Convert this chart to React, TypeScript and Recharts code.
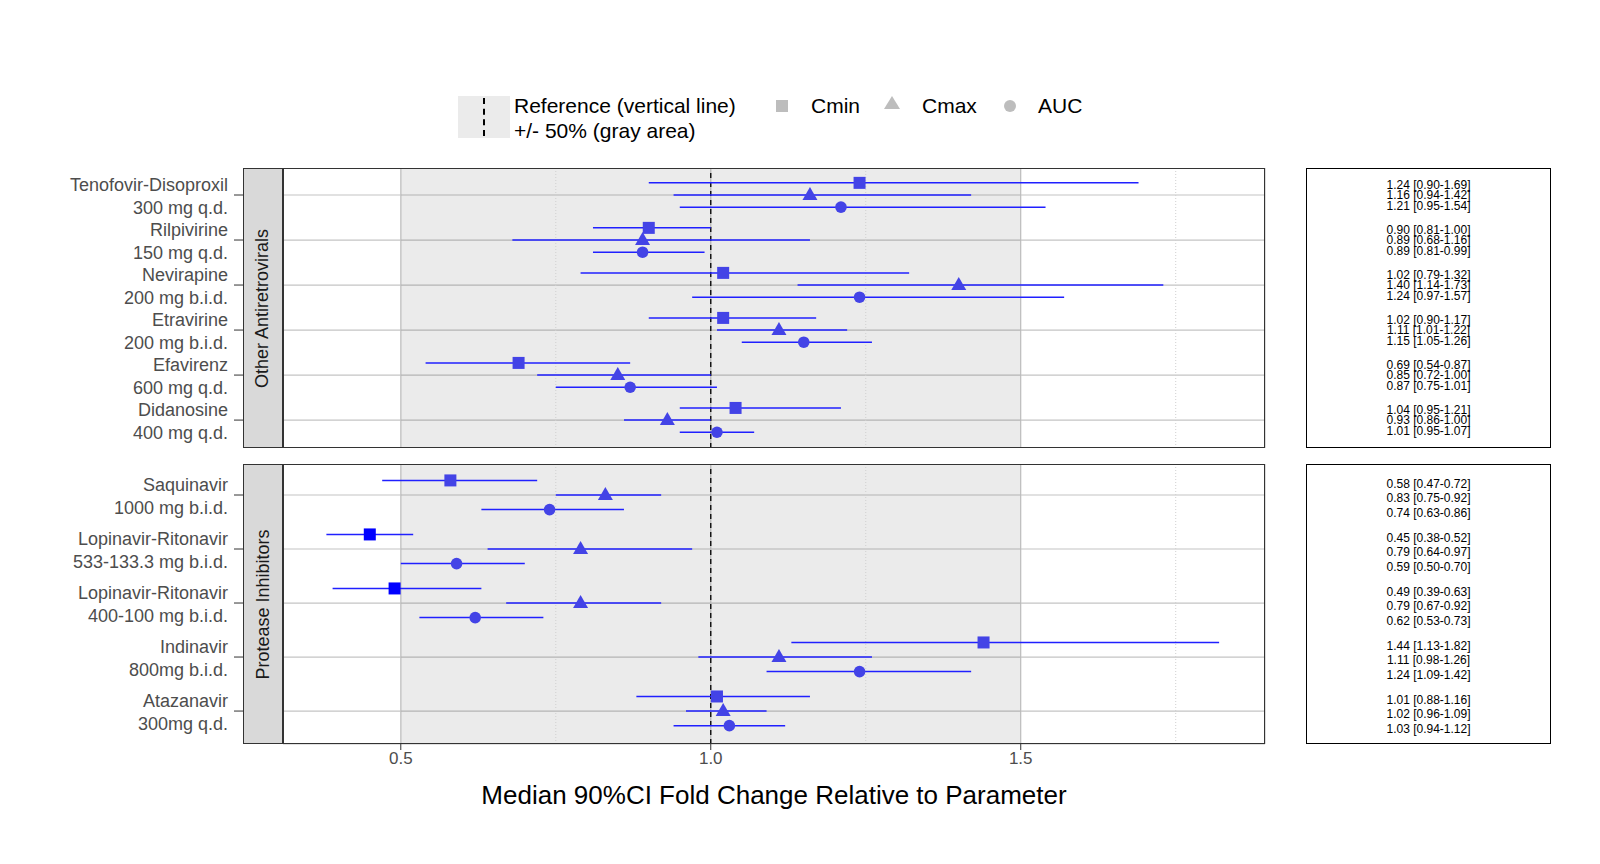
import React from 'react';
import { ScatterChart, Scatter, XAxis, YAxis, CartesianGrid, ReferenceArea, ReferenceLine, ErrorBar } from 'recharts';

const topDrugs = [
  ['Tenofovir-Disoproxil', '300 mg q.d.'],
  ['Rilpivirine', '150 mg q.d.'],
  ['Nevirapine', '200 mg b.i.d.'],
  ['Etravirine', '200 mg b.i.d.'],
  ['Efavirenz', '600 mg q.d.'],
  ['Didanosine', '400 mg q.d.'],
];
const topCmin = [[1.24, 0.9, 1.69], [0.9, 0.81, 1.0], [1.02, 0.79, 1.32], [1.02, 0.9, 1.17], [0.69, 0.54, 0.87], [1.04, 0.95, 1.21]];
const topCmax = [[1.16, 0.94, 1.42], [0.89, 0.68, 1.16], [1.4, 1.14, 1.73], [1.11, 1.01, 1.22], [0.85, 0.72, 1.0], [0.93, 0.86, 1.0]];
const topAuc = [[1.21, 0.95, 1.54], [0.89, 0.81, 0.99], [1.24, 0.97, 1.57], [1.15, 1.05, 1.26], [0.87, 0.75, 1.01], [1.01, 0.95, 1.07]];

const botDrugs = [
  ['Saquinavir', '1000 mg b.i.d.'],
  ['Lopinavir-Ritonavir', '533-133.3 mg b.i.d.'],
  ['Lopinavir-Ritonavir', '400-100 mg b.i.d.'],
  ['Indinavir', '800mg b.i.d.'],
  ['Atazanavir', '300mg q.d.'],
];
const botCmin = [[0.58, 0.47, 0.72], [0.45, 0.38, 0.52], [0.49, 0.39, 0.63], [1.44, 1.13, 1.82], [1.01, 0.88, 1.16]];
const botCmax = [[0.83, 0.75, 0.92], [0.79, 0.64, 0.97], [0.79, 0.67, 0.92], [1.11, 0.98, 1.26], [1.02, 0.96, 1.09]];
const botAuc = [[0.74, 0.63, 0.86], [0.59, 0.5, 0.7], [0.62, 0.53, 0.73], [1.24, 1.09, 1.42], [1.03, 0.94, 1.12]];

const xTicks = [0.5, 1.0, 1.5];
const minorTicks = [0.75, 1.25, 1.75];
const X_DOMAIN = [0.31, 1.894];
const OFF = 0.27;
const FONT = '"Liberation Sans", Arial, sans-serif';
const LINE = '#2020ff';

const build = (rows: number[][], off: number) =>
  rows.map(([v, lo, hi], i) => ({ x: v, y: i + off, err: [v - lo, hi - v] }));

const fillFor = (v: number) => (v < 0.5 ? '#0000ff' : '#4343e6');

const Square = (p: any) => <rect x={p.cx - 6} y={p.cy - 6} width={12} height={12} fill={fillFor(p.payload.x)} />;
const Tri = (p: any) => (
  <polygon points={`${p.cx},${p.cy - 8} ${p.cx - 7.5},${p.cy + 5} ${p.cx + 7.5},${p.cy + 5}`} fill={fillFor(p.payload.x)} />
);
const Circ = (p: any) => <circle cx={p.cx} cy={p.cy} r={5.8} fill={fillFor(p.payload.x)} />;

const makeTick = (labels: string[][]) => (p: any) => {
  const lab = labels[p.payload.value];
  if (!lab) return null;
  return (
    <g>
      <line x1={234} x2={243} y1={p.y} y2={p.y} stroke="#333" />
      <text x={228} y={p.y - 4} textAnchor="end" fontSize={18} fill="#4d4d4d" fontFamily={FONT}>{lab[0]}</text>
      <text x={228} y={p.y + 19} textAnchor="end" fontSize={18} fill="#4d4d4d" fontFamily={FONT}>{lab[1]}</text>
    </g>
  );
};

function Panel({ labels, cmin, cmax, auc, domain, top, height, showX }: any) {
  const n = labels.length;
  return (
    <div style={{ position: 'absolute', left: 0, top }}>
      <ScatterChart width={1266} height={height + (showX ? 40 : 0)} margin={{ top: 0, right: 1, bottom: 0, left: 0 }}>
        <CartesianGrid stroke="#c4c4c4" strokeWidth={1.2} />
        <XAxis
          type="number"
          dataKey="x"
          domain={X_DOMAIN}
          ticks={xTicks}
          hide={!showX}
          height={40}
          tickFormatter={(v: number) => v.toFixed(1)}
          tick={{ fontSize: 17, fill: '#4d4d4d', fontFamily: FONT }}
          tickLine={{ stroke: '#333' }}
          axisLine={false}
          allowDataOverflow
        />
        <YAxis
          type="number"
          dataKey="y"
          domain={domain}
          reversed
          ticks={Array.from({ length: n }, (_, i) => i)}
          width={283}
          tick={makeTick(labels)}
          tickLine={false}
          axisLine={false}
          allowDataOverflow
        />
        <ReferenceArea x1={0.5} x2={1.5} fill="#000" fillOpacity={0.08} stroke="none" />
        {minorTicks.map((t) => (
          <ReferenceLine key={t} x={t} stroke="#cfcfcf" strokeDasharray="1 2" />
        ))}
        <ReferenceLine x={1} stroke="#000" strokeDasharray="5 4" strokeWidth={1.3} />
        <Scatter data={build(cmin, -OFF)} shape={Square} isAnimationActive={false}>
          <ErrorBar dataKey="err" direction="x" width={0} stroke={LINE} strokeWidth={1.5} />
        </Scatter>
        <Scatter data={build(cmax, 0)} shape={Tri} isAnimationActive={false}>
          <ErrorBar dataKey="err" direction="x" width={0} stroke={LINE} strokeWidth={1.5} />
        </Scatter>
        <Scatter data={build(auc, OFF)} shape={Circ} isAnimationActive={false}>
          <ErrorBar dataKey="err" direction="x" width={0} stroke={LINE} strokeWidth={1.5} />
        </Scatter>
      </ScatterChart>
    </div>
  );
}

const fmt = (r: number[]) => `${r[0].toFixed(2)} [${r[1].toFixed(2)}-${r[2].toFixed(2)}]`;

function Strip({ top, text }: any) {
  return (
    <div style={{ position: 'absolute', left: 243, top, width: 40, height: 280, boxSizing: 'border-box', background: '#d9d9d9', border: '1.5px solid #333', display: 'flex', alignItems: 'center', justifyContent: 'center' }}>
      <div style={{ transform: 'rotate(-90deg)', whiteSpace: 'nowrap', fontSize: 18, color: '#1a1a1a', fontFamily: FONT }}>{text}</div>
    </div>
  );
}

function Table({ top, rows, y0, step, offs }: any) {
  return (
    <div style={{ position: 'absolute', left: 1306, top, width: 245, height: 280, boxSizing: 'border-box', border: '1.5px solid #000' }}>
      {rows.map((r: number[][], i: number) =>
        r.map((v, k) => (
          <div key={`${i}-${k}`} style={{ position: 'absolute', left: 0, width: 243, textAlign: 'center', top: y0 - top + step * i + offs[k] - 6, fontSize: 12, lineHeight: '10px', fontFamily: FONT, color: '#000' }}>
            {fmt(v)}
          </div>
        ))
      )}
    </div>
  );
}

export default function App() {
  const topRows = topDrugs.map((_, i) => [topCmin[i], topCmax[i], topAuc[i]]);
  const botRows = botDrugs.map((_, i) => [botCmin[i], botCmax[i], botAuc[i]]);
  return (
    <div style={{ position: 'absolute', left: 0, top: 0, width: 1600, height: 864, background: '#fff', fontFamily: FONT }}>
      {/* legend */}
      <div style={{ position: 'absolute', left: 458, top: 96, width: 52, height: 42, background: '#ebebeb' }}>
        <div style={{ position: 'absolute', left: 25, top: 2, height: 38, borderLeft: '2px dashed #000' }} />
      </div>
      <div style={{ position: 'absolute', left: 514, top: 93, fontSize: 21, lineHeight: '25px', color: '#000' }}>
        Reference (vertical line)<br />+/- 50% (gray area)
      </div>
      <div style={{ position: 'absolute', left: 776, top: 100, width: 12, height: 12, background: '#bdbdbd' }} />
      <div style={{ position: 'absolute', left: 811, top: 93, fontSize: 21, lineHeight: '25px' }}>Cmin</div>
      <svg style={{ position: 'absolute', left: 882, top: 95 }} width={20} height={16}>
        <polygon points="10,1 2,14 18,14" fill="#bdbdbd" />
      </svg>
      <div style={{ position: 'absolute', left: 922, top: 93, fontSize: 21, lineHeight: '25px' }}>Cmax</div>
      <div style={{ position: 'absolute', left: 1004, top: 100, width: 12, height: 12, borderRadius: 6, background: '#bdbdbd' }} />
      <div style={{ position: 'absolute', left: 1038, top: 93, fontSize: 21, lineHeight: '25px' }}>AUC</div>

      <Panel labels={topDrugs} cmin={topCmin} cmax={topCmax} auc={topAuc} domain={[-0.6, 5.62]} top={168} height={280} showX={false} />
      <Panel labels={botDrugs} cmin={botCmin} cmax={botCmax} auc={botAuc} domain={[-0.574, 4.61]} top={464} height={280} showX />

      <div style={{ position: 'absolute', left: 283, top: 168, width: 982, height: 280, boxSizing: 'border-box', border: '1.5px solid #333', pointerEvents: 'none' }} />
      <div style={{ position: 'absolute', left: 283, top: 464, width: 982, height: 280, boxSizing: 'border-box', border: '1.5px solid #333', pointerEvents: 'none' }} />
      <Strip top={168} text="Other Antiretrovirals" />
      <Strip top={464} text="Protease Inhibitors" />

      <Table top={168} rows={topRows} y0={195} step={45} offs={[-10, 0, 11]} />
      <Table top={464} rows={botRows} y0={498} step={54} offs={[-14, 0, 15]} />

      <div style={{ position: 'absolute', left: 283, width: 982, top: 780, textAlign: 'center', fontSize: 26, color: '#000' }}>
        Median 90%CI Fold Change Relative to Parameter
      </div>
    </div>
  );
}
